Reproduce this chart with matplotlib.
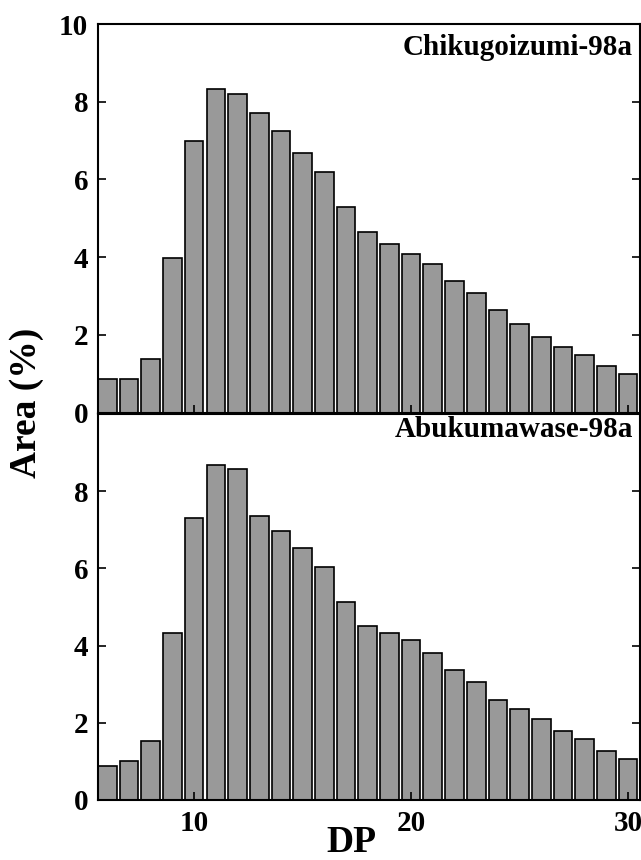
import matplotlib
matplotlib.use("Agg")
import matplotlib.pyplot as plt
import numpy as np

plt.rcParams['font.family'] = ['Liberation Serif', 'DejaVu Serif']
plt.rcParams['font.weight'] = 'bold'

dp = np.arange(6, 31)

chikugoizumi = [0.87, 0.87, 1.39, 3.98, 7.0, 8.34, 8.19, 7.7, 7.24, 6.67,
                6.18, 5.29, 4.66, 4.34, 4.08, 3.83, 3.39, 3.08, 2.64, 2.28,
                1.95, 1.70, 1.49, 1.19, 1.0]
abukumawase = [0.88, 1.02, 1.53, 4.33, 7.31, 8.69, 8.58, 7.36, 6.98, 6.54,
               6.03, 5.14, 4.51, 4.33, 4.14, 3.81, 3.38, 3.05, 2.60, 2.35,
               2.09, 1.78, 1.58, 1.26, 1.07]

names = ["Chikugoizumi-98a", "Abukumawase-98a"]
series = [chikugoizumi, abukumawase]

fig = plt.figure(figsize=(6.41, 8.6), dpi=100)
ax_top = fig.add_axes([0.1529, 0.5203, 0.8456, 0.4517])
ax_bot = fig.add_axes([0.1529, 0.0698, 0.8456, 0.4488], sharex=ax_top)

label_y = [0.921, 0.940]
for ax, vals, name, ly in zip([ax_top, ax_bot], series, names, label_y):
    ax.bar(dp, vals, width=0.86, color='#999999', edgecolor='black',
           linewidth=1.2)
    ax.set_ylim(0, 10)
    ax.set_xlim(5.57, 30.55)
    ax.set_yticks([0, 2, 4, 6, 8, 10])
    ax.set_xticks([10, 20, 30])
    ax.tick_params(direction='in', length=6, width=1.2, labelsize=21,
                   right=True, pad=7)
    for s in ax.spines.values():
        s.set_linewidth(1.5)
    ax.text(0.987, ly, name, transform=ax.transAxes, ha='right',
            va='baseline', fontsize=21, fontweight='bold')

ax_top.tick_params(labelbottom=False)
ax_bot.set_yticks([0, 2, 4, 6, 8])

fig.text(0.042, 0.531, "Area (%)", rotation=90, ha='center', va='center',
         fontsize=27, fontweight='bold')
fig.text(0.549, 0.0, "DP", ha='center', va='bottom', fontsize=27,
         fontweight='bold')

fig.savefig("out.png", dpi=100)
